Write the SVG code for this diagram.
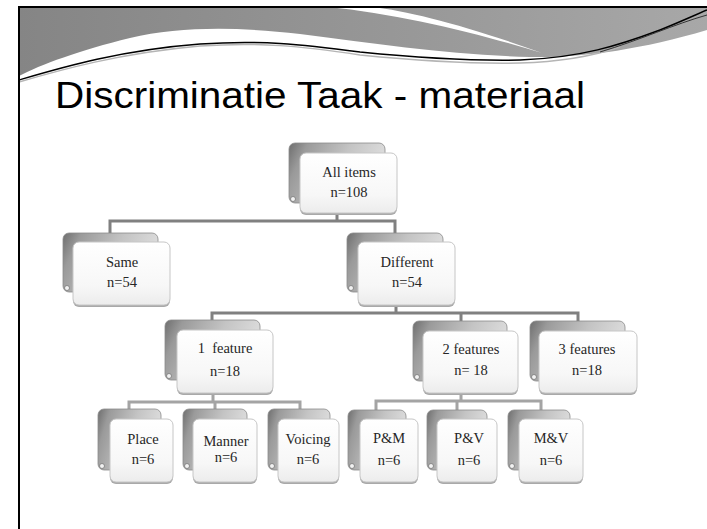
<svg xmlns="http://www.w3.org/2000/svg" width="707" height="529" viewBox="0 0 707 529">
<defs>
<linearGradient id="band" x1="0" y1="0" x2="1" y2="0">
<stop offset="0" stop-color="#858585"/>
<stop offset="0.6" stop-color="#999999"/>
<stop offset="1" stop-color="#a8a8a8"/>
</linearGradient>
<linearGradient id="back" x1="0" y1="0" x2="1" y2="0.3">
<stop offset="0" stop-color="#6e6e6e"/>
<stop offset="0.18" stop-color="#9a9a9a"/>
<stop offset="0.6" stop-color="#c4c4c4"/>
<stop offset="1" stop-color="#dedede"/>
</linearGradient>
<linearGradient id="front" x1="0" y1="0" x2="0" y2="1">
<stop offset="0" stop-color="#ffffff"/>
<stop offset="0.7" stop-color="#f7f7f7"/>
<stop offset="1" stop-color="#ececec"/>
</linearGradient>
<clipPath id="slide"><rect x="19" y="7" width="688" height="522"/></clipPath>
</defs>
<style>
.bk{fill:url(#back);stroke:#8a8a8a;stroke-width:0.8}
.sh{fill:#a9a9a9}
.fr{fill:url(#front);stroke:#c6c6c6;stroke-width:1}
.curl{fill:#f2f2f2;stroke:#777;stroke-width:0.8}
.t{font-family:"Liberation Serif","Times New Roman",serif;font-size:14.5px;fill:#262626;text-anchor:middle}
.c1{fill:none;stroke:#808080;stroke-width:3}
.c2{fill:none;stroke:#a4a4a4;stroke-width:3}
.title{font-family:"Liberation Sans",Arial,sans-serif;font-size:37px;fill:#000}
</style>
<rect width="707" height="529" fill="#ffffff"/>
<g id="header" clip-path="url(#slide)">
<path d="M19,7 H707 V30 C640,50 580,58 530,57 C450,55 380,44 300,34 C240,27 180,26 130,38 C80,50 40,65 19,76 Z" fill="url(#band)"/>
<path d="M328,7 C400,14 480,34 542,53 C470,27 410,11 372,7 Z" fill="#ffffff"/>
<path d="M19,82 C60,70 120,53 200,46 C260,42 300,46 360,55 C420,61 470,64 520,63 C560,62 590,57 620,47" fill="none" stroke="#b5b5b5" stroke-width="1.5"/>
<path d="M19,80 C60,68 120,50 200,44 C260,40 300,44 360,52 C420,58 470,61 520,60 C580,58 620,45 660,30 C680,22 695,15 707,10" fill="none" stroke="#000" stroke-width="1.5"/>
<path d="M600,52 C640,40 675,24 707,15" fill="none" stroke="#333" stroke-width="1"/>
</g>
<g id="frame" fill="none" stroke="#000" stroke-width="2">
<path d="M19,529 V7 H707"/>
</g>
<text class="title" x="55" y="108" textLength="530" lengthAdjust="spacingAndGlyphs">Discriminatie Taak - materiaal</text>
<g id="connectors">
<path class="c1" d="M337,213 V221 M110,233 V221 H395 V233"/>
<path class="c1" d="M396,305 V313 M212,320 V313 H578 V321 M461,313 V321"/>
<path class="c2" d="M213,393 V402 M129,409 V402 H300 V409 M215,402 V409"/>
<path class="c2" d="M461,393 V401 M376,410 V401 H541 V410 M457,401 V410"/>
</g>
<g id="n-all">
<rect class="bk" x="289" y="143" width="96" height="60" rx="6"/><circle class="curl" cx="293" cy="199" r="2.5"/>
<rect class="sh" x="300" y="155" width="97" height="60" rx="6"/>
<rect class="fr" x="300" y="153" width="97" height="60" rx="6"/>
<text class="t" x="349" y="177">All items</text><text class="t" x="349" y="197">n=108</text>
</g>
<g id="n-same">
<rect class="bk" x="63" y="233" width="95" height="59" rx="6"/><circle class="curl" cx="67" cy="288" r="2.5"/>
<rect class="sh" x="73" y="244" width="97" height="63" rx="6"/>
<rect class="fr" x="73" y="242" width="97" height="63" rx="6"/>
<text class="t" x="122" y="267">Same</text><text class="t" x="122" y="287">n=54</text>
</g>
<g id="n-different">
<rect class="bk" x="347" y="233" width="96" height="59" rx="6"/><circle class="curl" cx="351" cy="288" r="2.5"/>
<rect class="sh" x="358" y="244" width="97" height="63" rx="6"/>
<rect class="fr" x="358" y="242" width="97" height="63" rx="6"/>
<text class="t" x="407" y="267">Different</text><text class="t" x="407" y="287">n=54</text>
</g>
<g id="n-1feature">
<rect class="bk" x="165" y="320" width="95" height="60" rx="6"/><circle class="curl" cx="169" cy="376" r="2.5"/>
<rect class="sh" x="177" y="332" width="96" height="63" rx="6"/>
<rect class="fr" x="177" y="330" width="96" height="63" rx="6"/>
<text class="t" x="225" y="353" xml:space="preserve">1  feature</text><text class="t" x="225" y="376">n=18</text>
</g>
<g id="n-2features">
<rect class="bk" x="413" y="321" width="94" height="60" rx="6"/><circle class="curl" cx="417" cy="377" r="2.5"/>
<rect class="sh" x="423" y="333" width="95" height="62" rx="6"/>
<rect class="fr" x="423" y="331" width="95" height="62" rx="6"/>
<text class="t" x="471" y="354">2 features</text><text class="t" x="471" y="375" xml:space="preserve">n= 18</text>
</g>
<g id="n-3features">
<rect class="bk" x="530" y="321" width="95" height="60" rx="6"/><circle class="curl" cx="534" cy="377" r="2.5"/>
<rect class="sh" x="539" y="333" width="98" height="62" rx="6"/>
<rect class="fr" x="539" y="331" width="98" height="62" rx="6"/>
<text class="t" x="587" y="354">3 features</text><text class="t" x="587" y="375">n=18</text>
</g>
<g id="n-place">
<rect class="bk" x="98" y="409" width="63" height="61" rx="6"/><circle class="curl" cx="102" cy="466" r="2.5"/>
<rect class="sh" x="110" y="421" width="63" height="63" rx="6"/>
<rect class="fr" x="110" y="419" width="63" height="63" rx="6"/>
<text class="t" x="143" y="444">Place</text><text class="t" x="143" y="464">n=6</text>
</g>
<g id="n-manner">
<rect class="bk" x="183" y="409" width="64" height="61" rx="6"/><circle class="curl" cx="187" cy="466" r="2.5"/>
<rect class="sh" x="193" y="421" width="64" height="63" rx="6"/>
<rect class="fr" x="193" y="419" width="64" height="63" rx="6"/>
<text class="t" x="226" y="446">Manner</text><text class="t" x="226" y="462">n=6</text>
</g>
<g id="n-voicing">
<rect class="bk" x="268" y="409" width="62" height="61" rx="6"/><circle class="curl" cx="272" cy="466" r="2.5"/>
<rect class="sh" x="278" y="421" width="61" height="63" rx="6"/>
<rect class="fr" x="278" y="419" width="61" height="63" rx="6"/>
<text class="t" x="308" y="444">Voicing</text><text class="t" x="308" y="464">n=6</text>
</g>
<g id="n-pm">
<rect class="bk" x="348" y="410" width="58" height="60" rx="6"/><circle class="curl" cx="352" cy="466" r="2.5"/>
<rect class="sh" x="360" y="421" width="58" height="63" rx="6"/>
<rect class="fr" x="360" y="419" width="58" height="63" rx="6"/>
<text class="t" x="389" y="443">P&amp;M</text><text class="t" x="389" y="465">n=6</text>
</g>
<g id="n-pv">
<rect class="bk" x="427" y="410" width="60" height="60" rx="6"/><circle class="curl" cx="431" cy="466" r="2.5"/>
<rect class="sh" x="437" y="421" width="60" height="63" rx="6"/>
<rect class="fr" x="437" y="419" width="60" height="63" rx="6"/>
<text class="t" x="469" y="443">P&amp;V</text><text class="t" x="469" y="465">n=6</text>
</g>
<g id="n-mv">
<rect class="bk" x="508" y="410" width="62" height="60" rx="6"/><circle class="curl" cx="512" cy="466" r="2.5"/>
<rect class="sh" x="519" y="421" width="64" height="63" rx="6"/>
<rect class="fr" x="519" y="419" width="64" height="63" rx="6"/>
<text class="t" x="551" y="443">M&amp;V</text><text class="t" x="551" y="465">n=6</text>
</g>
</svg>
